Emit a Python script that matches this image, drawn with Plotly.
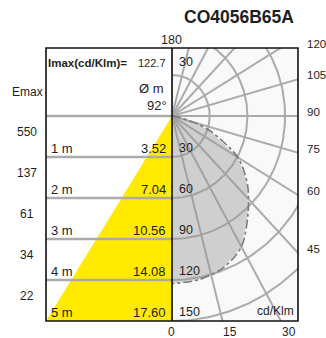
import numpy as np
import plotly.graph_objects as go

# ---------------- data ----------------
title = "CO4056B65A"
imax_value = 122.7
beam_angle = 92
distances = [1, 2, 3, 4, 5]
diameters = [3.52, 7.04, 10.56, 14.08, 17.60]
emax = [550, 137, 61, 34, 22]

# luminous intensity (cd/klm) vs angle from nadir (deg)
curve_angles = [0, 10, 20, 30, 40, 50, 60, 70, 75, 80, 85, 90]
curve_intensity = [122.7, 121.7, 118.5, 110.5, 94.0, 78.5, 60.5, 33.0, 18.0, 6.0, 1.0, 0.0]

circle_values = [30, 60, 90, 120, 150]
radial_angles = list(range(0, 181, 15))
right_tick_angles = [120, 105, 90, 75, 60, 45]
bottom_ticks = [0, 15, 30]

# ---------------- layout geometry (page pixels) ----------------
W, H = 326, 338
box_l, box_r, box_t, box_b = 46, 298, 48, 321
cx, cy = 172, 116
px_per_m = 41.0
py_per_cd = 41.0 / 30.0      # vertical scale of polar diagram
px_per_cd = 37.7 / 30.0      # horizontal scale of polar diagram
px_per_tick = 3.9            # bottom scale


def px(x):
    return x / W


def py(y):
    return (H - y) / H


x_max_cd = (box_r - cx) / px_per_cd
y_top_cd = (cy - box_t) / py_per_cd
y_bot_cd = -(box_b - cy) / py_per_cd
half_w = diameters[-1] / 2

grid_col = "#ababab"
txt_col = "#1e1e1e"
FONT = "Liberation Sans, Arial, sans-serif"

fig = go.Figure()

# ---------- left panel (metres) ----------
fig.add_trace(go.Scatter(
    x=[0, -half_w, 0, 0], y=[0, -distances[-1], -distances[-1], 0],
    fill="toself", fillcolor="#ffea00", line=dict(width=0), mode="lines",
    xaxis="x2", yaxis="y2", hoverinfo="skip"))
for d in [0] + distances[:-1]:
    fig.add_trace(go.Scatter(x=[-half_w, 0], y=[-d, -d], mode="lines",
                             line=dict(color=grid_col, width=2.5),
                             xaxis="x2", yaxis="y2", hoverinfo="skip"))

# ---------- polar panel (cd/klm) ----------
t = np.radians(np.linspace(0, 180, 181))
for r in circle_values:
    fig.add_trace(go.Scatter(x=r * np.sin(t), y=-r * np.cos(t), mode="lines",
                             line=dict(color=grid_col, width=2), hoverinfo="skip"))
for a in radial_angles:
    ar = np.radians(a)
    fig.add_trace(go.Scatter(x=[0, 400 * np.sin(ar)], y=[0, -400 * np.cos(ar)],
                             mode="lines", line=dict(color=grid_col, width=2),
                             hoverinfo="skip"))

ca = np.radians(curve_angles)
ci = np.array(curve_intensity)
cxs = list(ci * np.sin(ca))[::-1]
cys = list(-ci * np.cos(ca))[::-1]
fig.add_trace(go.Scatter(x=cxs + [0, 0], y=cys + [0, 0], fill="toself",
                         fillcolor="rgba(150,150,150,0.42)", mode="lines",
                         line=dict(width=0), hoverinfo="skip"))
fig.add_trace(go.Scatter(x=cxs, y=cys, mode="lines",
                         line=dict(color="#7a7a7a", width=1.6, dash="dashdot",
                                   shape="spline", smoothing=0.8),
                         hoverinfo="skip"))

# ---------- shapes ----------
shapes = [
    dict(type="rect", xref="paper", yref="paper", x0=px(cx), x1=px(box_r),
         y0=py(box_b), y1=py(box_t), fillcolor="#f9f9f9", line=dict(width=0),
         layer="below"),
    dict(type="line", xref="paper", yref="paper", x0=px(cx), x1=px(cx),
         y0=py(box_b), y1=py(box_t), line=dict(color="#111111", width=1.6)),
    dict(type="rect", xref="paper", yref="paper", x0=px(box_l), x1=px(box_r),
         y0=py(box_b), y1=py(box_t), line=dict(color="#111111", width=1.6)),
]

# ---------- annotations ----------
ann = []


def A(text, x, y, xref="paper", yref="paper", xanchor="center", size=12,
      xshift=0, yshift=0, bold=False):
    ann.append(dict(text=("<b>%s</b>" % text) if bold else text, x=x, y=y,
                    xref=xref, yref=yref, xanchor=xanchor, yanchor="middle",
                    showarrow=False, xshift=xshift, yshift=yshift,
                    font=dict(family=FONT, size=size, color=txt_col)))


A(title, px(296), py(17), xanchor="right", size=17.5, bold=True)
A("Imax(cd/Klm)=", px(46), py(63), xanchor="left", size=11.5, bold=True)
A(str(imax_value), px(136), py(63), xanchor="left", size=11)
A("Ø m", px(166), py(88), xanchor="right", size=13)
A("%d°" % beam_angle, px(169), py(105), xanchor="right", size=13)
A("Emax", px(45), py(92), xanchor="right", size=12)
A("cd/Klm", px(296), py(311), xanchor="right", size=12)
A("180", 0, py(40), xref="x", size=12.5)

for d, dia, e in zip(distances, diameters, emax):
    A("%d m" % d, -half_w, -d, xref="x2", yref="y2", xanchor="left", size=13,
      xshift=3, yshift=9)
    A("%.2f" % dia, 0, -d, xref="x2", yref="y2", xanchor="right", size=13,
      xshift=-4, yshift=9)
    A(str(e), px(27), -(d - 0.5), yref="y2", size=12, yshift=4.5)

for v in circle_values:
    A(str(v), 0, -v, xref="x", yref="y", xanchor="left", size=12.5,
      xshift=5, yshift=9)
A(str(circle_values[0]), 0, circle_values[0], xref="x", yref="y",
  xanchor="left", size=12.5, xshift=5, yshift=13)

for a in right_tick_angles:
    ar = np.radians(a)
    yv = -x_max_cd * np.cos(ar) / np.sin(ar)
    yv = min(yv, y_top_cd)
    A(str(a), px(305), yv, yref="y", xanchor="left", size=11.5, yshift=4)

for v in bottom_ticks:
    A(str(v), v, py(332), xref="x3", size=12)

ax_off = dict(visible=False, showgrid=False, zeroline=False, fixedrange=True)
fig.update_layout(
    width=W, height=H, margin=dict(l=0, r=0, t=0, b=0),
    paper_bgcolor="white", plot_bgcolor="rgba(0,0,0,0)", showlegend=False,
    xaxis=dict(domain=[px(cx), px(box_r)], range=[0, x_max_cd], anchor="y", **ax_off),
    yaxis=dict(domain=[py(box_b), py(box_t)], range=[y_bot_cd, y_top_cd], anchor="x", **ax_off),
    xaxis2=dict(domain=[px(box_l), px(cx)], range=[-half_w, 0], anchor="y2", **ax_off),
    yaxis2=dict(domain=[py(box_b), py(box_t)],
                range=[-(box_b - cy) / px_per_m, (cy - box_t) / px_per_m],
                anchor="x2", **ax_off),
    xaxis3=dict(domain=[px(cx), px(box_r)], range=[0, (box_r - cx) / px_per_tick],
                anchor="y", overlaying="x", **ax_off),
    shapes=shapes, annotations=ann,
)

fig.write_html("out.html",
               config={"displayModeBar": False},
               post_script="document.body.style.margin='0px';"
                           "document.body.style.overflow='hidden';")
